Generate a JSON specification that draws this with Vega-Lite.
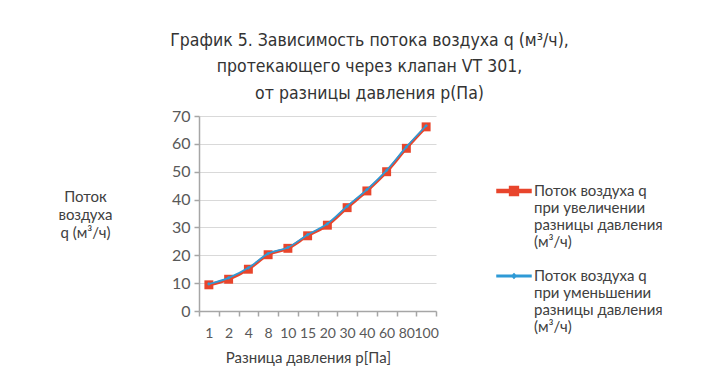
{
  "$schema": "https://vega.github.io/schema/vega-lite/v6.json",
  "autosize": {"type": "none"},
  "width": 237,
  "height": 195,
  "padding": {"left": 199, "top": 116, "right": 280, "bottom": 61},
  "background": "white",
  "config": {
    "view": {"stroke": null},
    "font": "Lato"
  },
  "title": {
    "text": ["График 5. Зависимость потока воздуха q (м³/ч),", "протекающего через клапан VT 301,", "от разницы давления p(Па)"],
    "font": "'Liberation Sans Narrow', 'DejaVu Sans Condensed', Roboto, sans-serif",
    "fontSize": 17.5,
    "fontWeight": "normal",
    "color": "#333333",
    "lineHeight": 26.5,
    "anchor": "middle",
    "frame": "group",
    "dx": 52,
    "offset": 6
  },
  "data": {
    "values": [
      {"p": "1", "q": 9.4, "series": "Поток воздуха q при увеличении разницы давления (м³/ч)"},
      {"p": "2", "q": 11.4, "series": "Поток воздуха q при увеличении разницы давления (м³/ч)"},
      {"p": "4", "q": 15.0, "series": "Поток воздуха q при увеличении разницы давления (м³/ч)"},
      {"p": "8", "q": 20.2, "series": "Поток воздуха q при увеличении разницы давления (м³/ч)"},
      {"p": "10", "q": 22.5, "series": "Поток воздуха q при увеличении разницы давления (м³/ч)"},
      {"p": "15", "q": 27.0, "series": "Поток воздуха q при увеличении разницы давления (м³/ч)"},
      {"p": "20", "q": 30.8, "series": "Поток воздуха q при увеличении разницы давления (м³/ч)"},
      {"p": "30", "q": 37.1, "series": "Поток воздуха q при увеличении разницы давления (м³/ч)"},
      {"p": "40", "q": 43.1, "series": "Поток воздуха q при увеличении разницы давления (м³/ч)"},
      {"p": "60", "q": 50.0, "series": "Поток воздуха q при увеличении разницы давления (м³/ч)"},
      {"p": "80", "q": 58.4, "series": "Поток воздуха q при увеличении разницы давления (м³/ч)"},
      {"p": "100", "q": 66.1, "series": "Поток воздуха q при увеличении разницы давления (м³/ч)"},
      {"p": "1", "q": 9.7, "series": "Поток воздуха q при уменьшении разницы давления (м³/ч)"},
      {"p": "2", "q": 11.9, "series": "Поток воздуха q при уменьшении разницы давления (м³/ч)"},
      {"p": "4", "q": 15.5, "series": "Поток воздуха q при уменьшении разницы давления (м³/ч)"},
      {"p": "8", "q": 20.6, "series": "Поток воздуха q при уменьшении разницы давления (м³/ч)"},
      {"p": "10", "q": 22.8, "series": "Поток воздуха q при уменьшении разницы давления (м³/ч)"},
      {"p": "15", "q": 27.4, "series": "Поток воздуха q при уменьшении разницы давления (м³/ч)"},
      {"p": "20", "q": 31.3, "series": "Поток воздуха q при уменьшении разницы давления (м³/ч)"},
      {"p": "30", "q": 37.6, "series": "Поток воздуха q при уменьшении разницы давления (м³/ч)"},
      {"p": "40", "q": 43.6, "series": "Поток воздуха q при уменьшении разницы давления (м³/ч)"},
      {"p": "60", "q": 50.5, "series": "Поток воздуха q при уменьшении разницы давления (м³/ч)"},
      {"p": "80", "q": 58.9, "series": "Поток воздуха q при уменьшении разницы давления (м³/ч)"},
      {"p": "100", "q": 66.5, "series": "Поток воздуха q при уменьшении разницы давления (м³/ч)"}
    ]
  },
  "encoding": {
    "x": {
      "field": "p",
      "type": "ordinal",
      "sort": null,
      "scale": {"type": "band", "paddingInner": 0, "paddingOuter": 0},
      "axis": {
        "title": "Разница давления p[Па]",
        "titleFont": "Lato",
        "titleFontSize": 15,
        "titleFontWeight": "normal",
        "titleColor": "#404040",
        "titleX": 109,
        "titlePadding": 10,
        "labelFont": "Lato",
        "labelFontSize": 14,
        "labelColor": "#595959",
        "labelAngle": 0,
        "labelOverlap": false,
        "labelPadding": 10,
        "tickBand": "extent",
        "tickSize": 5,
        "tickColor": "#A6A6A6",
        "tickWidth": 1.5,
        "domainColor": "#A6A6A6",
        "domainWidth": 1.5,
        "grid": false
      }
    },
    "y": {
      "field": "q",
      "type": "quantitative",
      "scale": {"domain": [0, 70]},
      "axis": {
        "values": [0, 10, 20, 30, 40, 50, 60, 70],
        "title": ["Поток", "воздуха", "q (м³/ч)"],
        "titleFont": "Lato",
        "titleFontSize": 15,
        "titleFontWeight": "normal",
        "titleColor": "#404040",
        "titleAngle": 0,
        "titleAlign": "center",
        "titleBaseline": "top",
        "titleLineHeight": 18,
        "titleX": -114,
        "titleY": 73,
        "labelFont": "Lato",
        "labelFontSize": 16,
        "labelColor": "#595959",
        "labelPadding": 4,
        "tickSize": 5,
        "tickColor": "#A6A6A6",
        "tickWidth": 1.5,
        "domainColor": "#A6A6A6",
        "domainWidth": 1.5,
        "gridColor": "#D9D9D9",
        "gridWidth": 1.2
      }
    },
    "color": {
      "field": "series",
      "type": "nominal",
      "scale": {
        "domain": ["Поток воздуха q при увеличении разницы давления (м³/ч)", "Поток воздуха q при уменьшении разницы давления (м³/ч)"],
        "range": ["#E8452C", "#2E9AD6"]
      },
      "legend": {
        "title": null,
        "orient": "none",
        "legendX": 297,
        "legendY": 57,
        "padding": 0,
        "symbolSize": 1156,
        "symbolOpacity": 1,
        "labelFont": "Lato",
        "labelFontSize": 15,
        "labelColor": "#404040",
        "labelLimit": 300,
        "labelOffset": 2,
        "rowPadding": 8,
        "labelExpr": "indexof(datum.label, 'увелич') >= 0 ? ['Поток воздуха q','при увеличении','разницы давления','(м³/ч)'] : ['Поток воздуха q','при уменьшении','разницы давления','(м³/ч)']"
      }
    }
  },
  "layer": [
    {
      "transform": [{"filter": "indexof(datum.series, 'увелич') >= 0"}],
      "mark": {"type": "line", "interpolate": "monotone", "strokeWidth": 3}
    },
    {
      "transform": [{"filter": "indexof(datum.series, 'увелич') >= 0"}],
      "mark": {"type": "point", "shape": "square", "filled": true, "size": 80, "opacity": 1}
    },
    {
      "transform": [{"filter": "indexof(datum.series, 'уменьш') >= 0"}],
      "mark": {"type": "line", "interpolate": "monotone", "strokeWidth": 1.75}
    },
    {
      "transform": [{"filter": "indexof(datum.series, 'уменьш') >= 0"}],
      "mark": {"type": "point", "shape": "diamond", "filled": true, "size": 14, "opacity": 1}
    },
    {
      "mark": {"type": "point", "filled": true, "opacity": 0},
      "encoding": {
        "shape": {
          "field": "series",
          "type": "nominal",
          "scale": {
            "domain": ["Поток воздуха q при увеличении разницы давления (м³/ч)", "Поток воздуха q при уменьшении разницы давления (м³/ч)"],
            "range": ["M-1,-0.09H1V0.09H-1ZM-0.26,-0.26H0.26V0.26H-0.26Z", "M-1,-0.045H1V0.045H-1ZM0,-0.13L0.13,0L0,0.13L-0.13,0Z"]
          },
          "legend": {
            "title": null,
            "orient": "none",
            "legendX": 297,
            "legendY": 57,
            "padding": 0,
            "symbolSize": 1156,
            "symbolOpacity": 1,
            "labelFont": "Lato",
            "labelFontSize": 15,
            "labelColor": "#404040",
            "labelLimit": 300,
            "labelOffset": 2,
            "rowPadding": 8,
            "labelExpr": "indexof(datum.label, 'увелич') >= 0 ? ['Поток воздуха q','при увеличении','разницы давления','(м³/ч)'] : ['Поток воздуха q','при уменьшении','разницы давления','(м³/ч)']"
          }
        }
      }
    }
  ]
}
